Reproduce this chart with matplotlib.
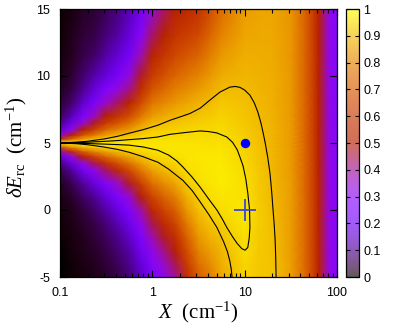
import numpy as np
import matplotlib
matplotlib.use("Agg")
import matplotlib.pyplot as plt
from matplotlib.colors import ListedColormap, Normalize
from matplotlib.cm import ScalarMappable
from matplotlib.ticker import LogLocator, NullFormatter

plt.rcParams['font.family'] = ['Liberation Sans', 'DejaVu Sans']
plt.rcParams['mathtext.fontset'] = 'custom'
plt.rcParams['mathtext.rm'] = 'Liberation Serif'
plt.rcParams['mathtext.it'] = 'Liberation Serif:italic'

# ---------------- data ----------------
x_cols = [0.1, 0.133, 0.178, 0.237, 0.316, 0.422, 0.562, 0.75, 1.0, 1.33, 1.78,
          2.37, 3.16, 4.22, 5.62, 10.0, 14.1, 20.0, 31.6, 44.7, 56.2, 63.1,
          75.0, 84.1, 100.0]
dE_rows = [-5, -4, -3, -2, -1, 0, 1, 2, 3, 3.5, 4, 4.4, 4.7, 5, 5.3, 5.6,
           6, 6.5, 7, 8, 9, 10, 11.5, 13, 15]

# value columns, one per X position, listed from dE=-5 up to dE=15
col_x0_100 = [.002, .003, .003, .004, .006, .008, .013, .023, .051, .087, .175, .369, .689,
              .970, .555, .297, .158, .090, .059, .032, .020, .014, .009, .007, .005]
col_x0_133 = [.005, .006, .008, .010, .013, .019, .030, .051, .108, .177, .324, .565, .822,
              .969, .734, .492, .303, .186, .127, .071, .046, .033, .022, .016, .011]
col_x0_178 = [.011, .014, .017, .022, .030, .042, .065, .109, .215, .326, .517, .736, .897,
              .968, .852, .684, .499, .346, .252, .150, .100, .073, .049, .036, .025]
col_x0_237 = [.019, .023, .029, .037, .050, .070, .105, .173, .318, .450, .640, .816, .924,
              .966, .897, .783, .632, .480, .371, .238, .165, .118, .070, .050, .035]
col_x0_316 = [.031, .038, .048, .062, .082, .114, .167, .262, .440, .577, .743, .871, .940,
              .965, .925, .852, .743, .614, .507, .354, .258, .170, .115, .080, .055]
col_x0_422 = [.050, .061, .075, .097, .126, .172, .244, .363, .555, .682, .814, .904, .948,
              .964, .935, .883, .797, .689, .590, .436, .330, .230, .160, .115, .085]
col_x0_562 = [.078, .094, .116, .146, .189, .250, .341, .476, .662, .767, .865, .926, .954,
              .964, .944, .906, .841, .754, .669, .522, .412, .331, .220, .165, .125]
col_x0_750 = [.137, .164, .199, .245, .305, .386, .492, .627, .779, .851, .910, .944, .958,
              .963, .951, .929, .891, .836, .777, .661, .559, .475, .376, .280, .205]
col_x1_00 = [.232, .271, .319, .379, .452, .541, .643, .754, .859, .903, .936, .954, .961,
             .963, .956, .943, .922, .889, .851, .772, .693, .619, .523, .435, .330]
col_x1_33 = [.310, .356, .411, .477, .552, .637, .728, .818, .896, .926, .948, .959, .963,
             .962, .955, .945, .928, .903, .874, .811, .745, .682, .594, .518, .434]
col_x1_78 = [.399, .450, .509, .574, .646, .721, .796, .866, .921, .941, .955, .961, .963,
             .961, .955, .947, .934, .915, .893, .843, .791, .737, .660, .590, .509]
col_x2_37 = [.564, .616, .670, .726, .782, .836, .884, .923, .950, .958, .963, .964, .962,
             .959, .954, .948, .938, .923, .906, .865, .820, .771, .697, .627, .541]
col_x3_16 = [.714, .756, .797, .836, .872, .904, .930, .950, .962, .964, .965, .964, .962,
             .959, .955, .950, .942, .930, .917, .884, .845, .801, .733, .663, .576]
col_x4_22 = [.785, .820, .854, .884, .911, .934, .951, .962, .967, .967, .965, .963, .960,
             .957, .953, .949, .943, .934, .924, .900, .872, .841, .791, .738, .667]
col_x5_62 = [.870, .880, .893, .910, .932, .950, .963, .969, .970, .968, .966, .964, .962,
             .959, .956, .953, .949, .942, .935, .918, .899, .878, .842, .804, .750]
col_x10_0 = [.936, .943, .950, .956, .962, .965, .960, .955, .948, .944, .941, .938, .936,
             .933, .931, .929, .925, .921, .917, .909, .901, .892, .879, .866, .849]
col_x14_1 = [.918, .921, .923, .925, .926, .926, .925, .922, .919, .917, .915, .913, .911,
             .910, .908, .907, .905, .902, .900, .895, .890, .885, .878, .871, .862]
col_x20_0 = [.912, .911, .910, .908, .905, .901, .898, .896, .894, .893, .892, .891, .890,
             .889, .889, .888, .887, .886, .885, .882, .879, .877, .873, .869, .864]
col_x31_6 = [.852, .852, .851, .851, .850, .850, .849, .848, .847, .847, .846, .846, .846,
             .845, .845, .845, .844, .844, .843, .842, .841, .840, .838, .837, .835]
col_x44_7 = [.745, .745, .744, .744, .743, .743, .742, .741, .740, .740, .739, .739, .739,
             .738, .738, .738, .737, .737, .736, .735, .734, .733, .732, .731, .730]
col_x56_2 = [.622, .622, .621, .621, .620, .620, .620, .619, .619, .619, .618, .618, .618,
             .618, .617, .617, .617, .617, .616, .616, .615, .615, .614, .613, .612]
col_x63_1 = [.522, .522, .521, .521, .521, .520, .520, .520, .519, .519, .519, .519, .518,
             .518, .518, .518, .518, .517, .517, .517, .516, .516, .516, .515, .515]
col_x75_0 = [.402, .402, .402, .401, .401, .401, .401, .400, .400, .400, .400, .400, .400,
             .400, .400, .400, .400, .399, .399, .399, .399, .398, .398, .398, .397]
col_x84_1 = [.312, .312, .312, .311, .311, .311, .311, .310, .310, .310, .310, .310, .310,
             .310, .310, .310, .310, .309, .309, .309, .309, .308, .308, .308, .307]
col_x100 = [.291, .291, .291, .290, .290, .290, .290, .290, .290, .290, .290, .290, .290,
            .290, .290, .290, .290, .289, .289, .289, .289, .289, .288, .288, .288]

# contour lines (0.9 outer, 0.95 inner)
outer_x = [7.3, 7.15, 6.9, 6.5, 5.9, 5.0, 4.1, 3.3, 2.7, 2.15, 1.5, 1.15, 0.8, 0.56,
           0.42, 0.3, 0.2, 0.15, 0.1, 0.15, 0.2, 0.3, 0.42, 0.56, 0.8, 1.15, 1.56, 2.0,
           2.55, 3.3, 4.2, 5.4, 6.9, 7.9, 8.9, 10.0, 11.4, 12.7, 13.9, 15.0, 15.8, 16.7,
           17.8, 18.8, 19.6, 20.2, 20.9, 21.4, 21.7, 21.9]
outer_y = [-5.0, -4.4, -3.8, -3.1, -2.35, -1.3, -0.35, 0.6, 1.45, 2.2, 3.05, 3.56, 3.97, 4.31,
           4.52, 4.7, 4.87, 4.95, 5.0, 5.06, 5.13, 5.3, 5.5, 5.73, 6.0, 6.33, 6.7, 6.95,
           7.2, 7.6, 8.2, 8.8, 9.17, 9.22, 9.15, 8.95, 8.57, 8.0, 7.3, 6.5, 5.8, 5.0,
           3.9, 2.74, 1.4, 0.2, -1.1, -2.3, -3.6, -5.0]
inner_x = [0.1, 0.2, 0.3, 0.42, 0.56, 0.8, 1.15, 1.5, 1.85, 2.15, 2.7, 3.3, 4.1, 5.0,
           5.7, 6.4, 7.4, 8.3, 9.3, 10.1, 10.8, 11.2, 11.4, 11.3, 10.8, 10.3, 9.6, 8.9,
           8.3, 7.4, 6.4, 5.0, 4.1, 3.3, 2.4, 1.56, 1.15, 0.8, 0.56, 0.42, 0.3, 0.2, 0.1]
inner_y = [5.0, 4.96, 4.92, 4.88, 4.84, 4.7, 4.46, 4.1, 3.65, 3.2, 2.45, 1.7, 0.8, 0.0,
           -0.65, -1.3, -2.0, -2.5, -2.88, -3.0, -2.8, -2.1, -1.3, 0.0, 1.3, 2.3, 3.3, 3.94,
           4.5, 5.05, 5.45, 5.75, 5.85, 5.9, 5.8, 5.65, 5.45, 5.33, 5.25, 5.18, 5.12, 5.06, 5.0]

dot_x, dot_y = [10.0], [5.0]
cross_x, cross_y = [10.0], [0.0]
x_ticks = [0.1, 1, 10, 100]
x_ticklabels = ['0.1', '1', '10', '100']
y_ticks = [-5, 0, 5, 10, 15]
cb_ticks = [0, 0.1, 0.2, 0.3, 0.4, 0.5, 0.6, 0.7, 0.8, 0.9, 1.0]
cb_ticklabels = ['0', '0.1', '0.2', '0.3', '0.4', '0.5', '0.6', '0.7', '0.8', '0.9', '1']

columns = [col_x0_100, col_x0_133, col_x0_178, col_x0_237, col_x0_316, col_x0_422,
           col_x0_562, col_x0_750, col_x1_00, col_x1_33, col_x1_78, col_x2_37,
           col_x3_16, col_x4_22, col_x5_62, col_x10_0, col_x14_1, col_x20_0,
           col_x31_6, col_x44_7, col_x56_2, col_x63_1, col_x75_0, col_x84_1, col_x100]
Z = np.column_stack([np.asarray(c, dtype=float) for c in columns])
XX, YY = np.meshgrid(np.asarray(x_cols), np.asarray(dE_rows, dtype=float))

# ---------------- figure ----------------
W, H = 398, 330
fig = plt.figure(figsize=(W / 100, H / 100), dpi=100)
ax = fig.add_axes([60 / W, 1 - 277 / H, 277 / W, 268 / H])
cax = fig.add_axes([346 / W, 1 - 277 / H, 13 / W, 268 / H])

cmap = plt.get_cmap('gnuplot')
ax.pcolormesh(XX, YY, Z, shading='gouraud', cmap=cmap, vmin=0, vmax=1)
ax.plot(outer_x, outer_y, color='black', lw=0.8)
ax.plot(inner_x, inner_y, color='black', lw=0.8)

ax.plot(dot_x, dot_y, 'o', color='#0000ff', ms=6.8, mec='none', zorder=5)
ax.plot(cross_x, cross_y, '+', color='#3a46dc', ms=16, mew=1.3, zorder=5)

ax.set_xscale('log')
ax.set_xlim(0.1, 100)
ax.set_ylim(-5, 15)
ax.set_xticks(x_ticks)
ax.set_xticklabels(x_ticklabels)
ax.xaxis.set_minor_locator(LogLocator(base=10, subs=range(2, 10)))
ax.xaxis.set_minor_formatter(NullFormatter())
ax.set_yticks(y_ticks)
ax.set_yticklabels([str(v) for v in y_ticks])
ax.tick_params(which='both', direction='in', top=True, right=True,
               labelsize=9, width=0.8, color='black')
ax.tick_params(which='major', length=5)
ax.tick_params(which='minor', length=2.8)
ax.tick_params(axis='x', pad=7)
ax.tick_params(axis='y', pad=7)
for s in ax.spines.values():
    s.set_linewidth(0.9)

ax.set_xlabel(r'$X$  (cm$^{-1}$)', fontsize=15, family='Liberation Serif')
ax.set_ylabel(r'$\delta E_{\rm rc}$  (cm$^{-1}$)', fontsize=15, family='Liberation Serif')
ax.xaxis.set_label_coords(0.5, -0.085)
ax.yaxis.set_label_coords(-0.112, 0.485)

# colorbar: same palette, washed out
base = cmap(np.linspace(0, 1, 256))[:, :3]
cb_cmap = ListedColormap(0.65 * base + 0.35)
sm = ScalarMappable(norm=Normalize(0, 1), cmap=cb_cmap)
cb = fig.colorbar(sm, cax=cax, ticks=cb_ticks)
cb.set_ticklabels(cb_ticklabels)
cb.outline.set_linewidth(0.9)
cax.tick_params(direction='in', left=True, right=True, length=3, width=0.8,
                labelsize=9, pad=3)

fig.savefig('out.png', dpi=100)
